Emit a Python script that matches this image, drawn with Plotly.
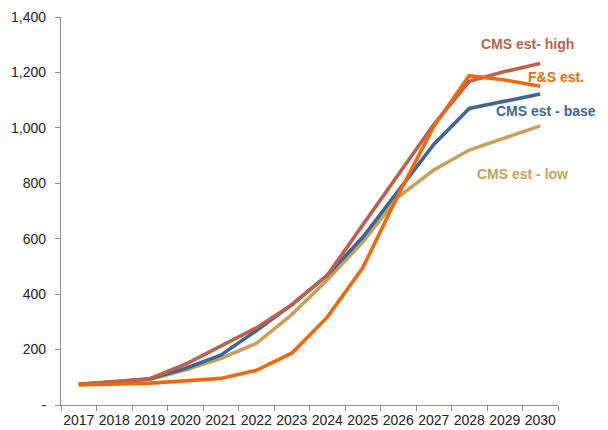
import plotly.graph_objects as go

years = [str(y) for y in range(2017, 2031)]
cms_high = [75, 84, 95, 147, 214, 278, 361, 468, 650, 832, 1012, 1168, 1203, 1232]
cms_base = [75, 83, 95, 132, 180, 268, 362, 468, 605, 775, 940, 1070, 1097, 1122]
cms_low = [75, 82, 92, 126, 168, 222, 326, 451, 588, 750, 848, 920, 964, 1007]
fs_est = [72, 76, 79, 87, 96, 125, 187, 317, 495, 758, 1005, 1188, 1173, 1150]

y_ticks = [0, 200, 400, 600, 800, 1000, 1200, 1400]
y_tick_text = ["-", "200", "400", "600", "800", "1,000", "1,200", "1,400"]

series = [
    ("CMS est - low", cms_low, "#C8A05A"),
    ("CMS est - base", cms_base, "#3D6698"),
    ("CMS est- high", cms_high, "#BE604A"),
    ("F&S est.", fs_est, "#EC6A0C"),
]

# label placement (category index, value)
labels = [
    ("CMS est- high", 12.63, 1302, "#BE604A"),
    ("F&S est.", 13.45, 1183, "#EC6A0C"),
    ("CMS est - base", 13.16, 1061, "#3D6698"),
    ("CMS est - low", 12.51, 833, "#C8A05A"),
]

fig = go.Figure()
for name, vals, color in series:
    fig.add_trace(go.Scatter(
        x=years, y=vals, mode="lines", name=name,
        line=dict(color=color, width=3.6),
        showlegend=False,
    ))

for text, xi, yv, color in labels:
    fig.add_annotation(
        x=xi, y=yv, xref="x", yref="y", text=f"<b>{text}</b>",
        showarrow=False, font=dict(family="Liberation Sans, Arial", size=14, color=color),
        xanchor="center", yanchor="middle",
    )

fig.update_layout(
    width=608, height=430,
    margin=dict(l=61, r=50, t=17, b=25),
    paper_bgcolor="white", plot_bgcolor="white",
    font=dict(family="Liberation Sans, Arial", size=14, color="#222222"),
    xaxis=dict(
        type="category", range=[-0.5, 13.5], automargin=False,
        showline=True, linecolor="#8C8C8C", linewidth=1.3,
        ticks="outside", tickson="boundaries", ticklen=5, tickcolor="#8C8C8C",
        showgrid=False, zeroline=False, tickangle=0,
        ticklabelstandoff=2,
        tickfont=dict(size=14, color="#222222"),
    ),
    yaxis=dict(
        range=[0, 1400], tickvals=y_ticks, ticktext=y_tick_text, automargin=False,
        showline=True, linecolor="#8C8C8C", linewidth=1.3,
        ticks="outside", ticklen=5, tickcolor="#8C8C8C",
        showgrid=False, zeroline=False,
        ticklabelstandoff=6,
        tickfont=dict(size=14, color="#222222"),
    ),
)

fig.write_html("out.html")
